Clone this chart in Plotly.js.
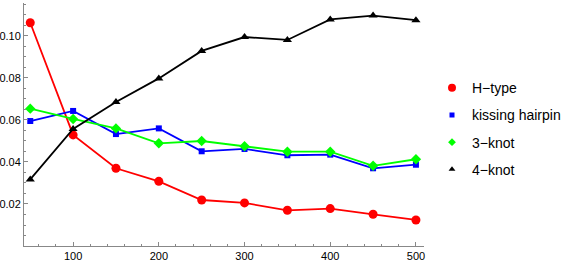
<!DOCTYPE html>
<html><head><meta charset="utf-8">
<script src="https://cdn.plot.ly/plotly-3.0.1.min.js"></script>
<style>html,body{margin:0;padding:0;background:#fff;}#chart{width:581px;height:264px;}</style>
</head><body><div id="chart"></div>
<script>
const xValues = [50, 100, 150, 200, 250, 300, 350, 400, 450, 500];
const hType = [0.1063, 0.0529, 0.0370, 0.0308, 0.0219, 0.0205, 0.0170, 0.0178, 0.0151, 0.0124];
const kissingHairpin = [0.0595, 0.0643, 0.0533, 0.0560, 0.0451, 0.0462, 0.0432, 0.0435, 0.0370, 0.0387];
const threeKnot = [0.0654, 0.0605, 0.0560, 0.0489, 0.0500, 0.0475, 0.0449, 0.0449, 0.0382, 0.0413];
const fourKnot = [0.0317, 0.0557, 0.0686, 0.0798, 0.0929, 0.0995, 0.0981, 0.1079, 0.1097, 0.1075];
const seriesNames = ['H\u2212type', 'kissing hairpin', '3\u2212knot', '4\u2212knot'];
const yTickVals = [0.02, 0.04, 0.06, 0.08, 0.10];
const xTickVals = [100, 200, 300, 400, 500];

const series = [
  {name: seriesNames[0], y: hType, color: '#ff0000', symbol: 'circle', size: 9, lsize: 8},
  {name: seriesNames[1], y: kissingHairpin, color: '#0000ff', symbol: 'square', size: 6, lsize: 5},
  {name: seriesNames[2], y: threeKnot, color: '#00ff00', symbol: 'diamond', size: 8, lsize: 6},
  {name: seriesNames[3], y: fourKnot, color: '#000000', symbol: 'triangle-up', size: 8, lsize: 6}
];
const traces = [];
series.forEach((s, i) => {
  traces.push({x: xValues, y: s.y, mode: 'lines+markers', showlegend: false,
    line: {color: s.color, width: 1.8},
    marker: {color: s.color, symbol: s.symbol, size: s.size}});
});
series.forEach((s, i) => {
  traces.push({x: [null], y: [null], mode: 'markers', name: s.name, legendgroup: 'g' + i,
    marker: {color: s.color, symbol: s.symbol, size: s.lsize}});
});
const axisCommon = {showgrid: false, zeroline: false, showline: true, linecolor: '#888', linewidth: 1,
  ticks: 'inside', ticklen: 4, tickcolor: '#888', tickwidth: 1,
  tickfont: {family: 'Liberation Sans, Arial, sans-serif', size: 11, color: '#000'}};
const layout = {
  width: 581, height: 264,
  margin: {l: 24, r: 157, t: 3, b: 18},
  paper_bgcolor: '#fff', plot_bgcolor: '#fff',
  font: {family: 'Liberation Sans, Arial, sans-serif', color: '#000'},
  xaxis: Object.assign({}, axisCommon, {range: [42.7, 509.4], tickmode: 'array', tickvals: xTickVals,
    ticktext: xTickVals.map(String),
    minor: {ticks: 'inside', ticklen: 2, tick0: 0, dtick: 20, tickcolor: '#888'}}),
  yaxis: Object.assign({}, axisCommon, {range: [0, 0.1157], tickmode: 'array', tickvals: yTickVals,
    ticktext: yTickVals.map(v => v.toFixed(2)),
    minor: {ticks: 'inside', ticklen: 2, tick0: 0, dtick: 0.005, tickcolor: '#888'}}),
  legend: {x: 1.02, xanchor: 'left', y: 0.483, yanchor: 'middle', traceorder: 'grouped', tracegroupgap: 6,
    font: {size: 14, family: 'Liberation Sans, Arial, sans-serif', color: '#000'}, bgcolor: 'rgba(0,0,0,0)'}
};
Plotly.newPlot('chart', traces, layout, {displayModeBar: false, staticPlot: true});
</script></body></html>
